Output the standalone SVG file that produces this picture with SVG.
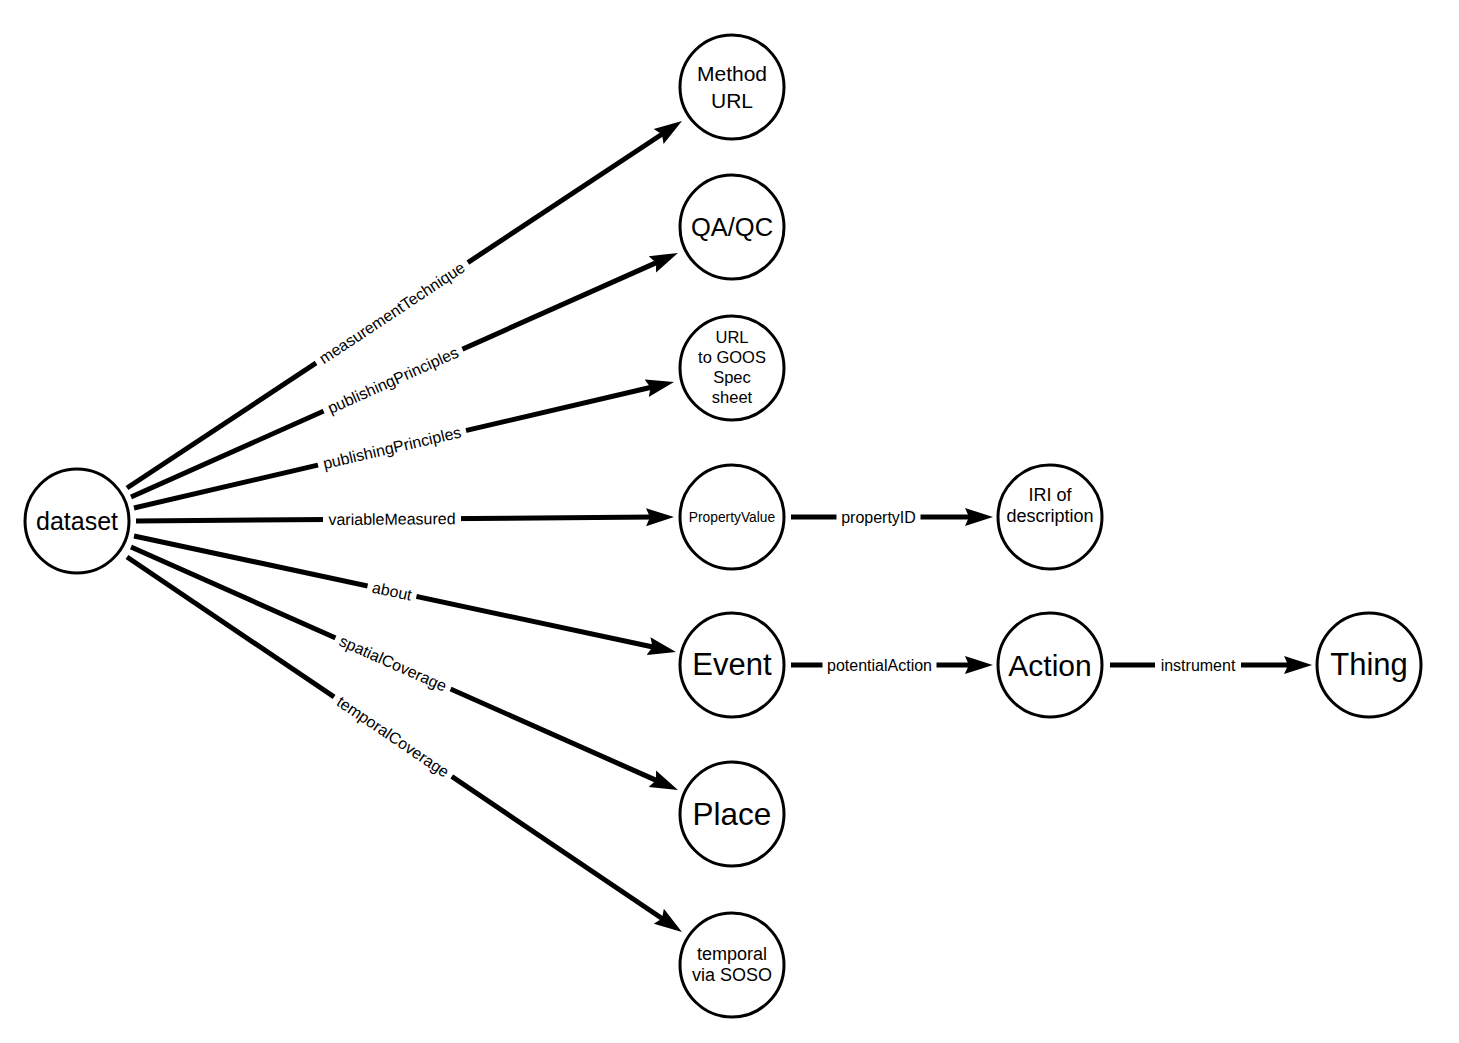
<svg xmlns="http://www.w3.org/2000/svg" width="1459" height="1043" viewBox="0 0 1459 1043">
<style>
  .node circle { fill: #ffffff; stroke: #000000; stroke-width: 3; }
  .node text { font-family: "Liberation Sans", Arial, sans-serif; fill: #000000; text-anchor: middle; dominant-baseline: central; }
  .edge line { stroke: #000000; stroke-width: 5; marker-end: url(#arrow); }
  .lbl rect { fill: #ffffff; stroke: none; }
  .lbl text { font-family: "Liberation Sans", Arial, sans-serif; font-size: 16px; fill: #000000; text-anchor: middle; dominant-baseline: central; }
</style>
<defs>
  <marker id="arrow" markerUnits="userSpaceOnUse" markerWidth="30" markerHeight="20" viewBox="0 -10 30 20" refX="8" refY="0" orient="auto">
    <path d="M0,-9 L28,0 L0,9 L4,0 Z" fill="#000000"/>
  </marker>
</defs>
<rect width="1459" height="1043" fill="#ffffff"/>
<g id="connectors">
  <g class="edge" id="e-measurementTechnique">
    <line x1="127" y1="488" x2="665.3" y2="132.0"/>
    <g class="lbl" transform="translate(392,312.8) rotate(-33.47)"><rect x="-91" y="-8" width="182" height="16"/><text x="0" y="0">measurementTechnique</text></g>
  </g>
  <g class="edge" id="e-publishingPrinciples1">
    <line x1="131" y1="497" x2="659.7" y2="261.1"/>
    <g class="lbl" transform="translate(393,380.2) rotate(-24.04)"><rect x="-76" y="-8" width="152" height="16"/><text x="0" y="0">publishingPrinciples</text></g>
  </g>
  <g class="edge" id="e-publishingPrinciples2">
    <line x1="134" y1="508" x2="654.5" y2="386.5"/>
    <g class="lbl" transform="translate(392,447.8) rotate(-13.13)"><rect x="-76" y="-8" width="152" height="16"/><text x="0" y="0">publishingPrinciples</text></g>
  </g>
  <g class="edge" id="e-variableMeasured">
    <line x1="136" y1="521" x2="654" y2="517.1"/>
    <g class="lbl" transform="translate(392,519.1) rotate(-0.43)"><rect x="-69" y="-8" width="138" height="16"/><text x="0" y="0">variableMeasured</text></g>
  </g>
  <g class="edge" id="e-about">
    <line x1="134" y1="536" x2="656.4" y2="647.8"/>
    <g class="lbl" transform="translate(392,591.2) rotate(12.08)"><rect x="-25" y="-8" width="50" height="16"/><text x="0" y="0">about</text></g>
  </g>
  <g class="edge" id="e-spatialCoverage">
    <line x1="131" y1="547" x2="659.7" y2="781.9"/>
    <g class="lbl" transform="translate(393,663.4) rotate(23.95)"><rect x="-63" y="-8" width="126" height="16"/><text x="0" y="0">spatialCoverage</text></g>
  </g>
  <g class="edge" id="e-temporalCoverage">
    <line x1="127" y1="557" x2="665.4" y2="920.8"/>
    <g class="lbl" transform="translate(393,736.7) rotate(34.05)"><rect x="-71" y="-8" width="142" height="16"/><text x="0" y="0">temporalCoverage</text></g>
  </g>
  <g class="edge" id="e-propertyID">
    <line x1="791" y1="517" x2="973" y2="517"/>
    <g class="lbl" transform="translate(878.5,517)"><rect x="-42" y="-8" width="84" height="16"/><text x="0" y="0">propertyID</text></g>
  </g>
  <g class="edge" id="e-potentialAction">
    <line x1="791" y1="665" x2="973" y2="665"/>
    <g class="lbl" transform="translate(879.5,665)"><rect x="-57" y="-8" width="114" height="16"/><text x="0" y="0">potentialAction</text></g>
  </g>
  <g class="edge" id="e-instrument">
    <line x1="1110" y1="665" x2="1292" y2="665"/>
    <g class="lbl" transform="translate(1198,665)"><rect x="-43" y="-8" width="86" height="16"/><text x="0" y="0">instrument</text></g>
  </g>
</g>
<g class="node" id="n-dataset"><circle cx="77" cy="521" r="52"/><text x="77" y="521" font-size="25">dataset</text></g>
<g class="node" id="n-method"><circle cx="732" cy="87" r="52"/><text x="732" y="73" font-size="21">Method</text><text x="732" y="100" font-size="21">URL</text></g>
<g class="node" id="n-qaqc"><circle cx="732" cy="227" r="52"/><text x="732" y="227" font-size="25.5">QA/QC</text></g>
<g class="node" id="n-goos"><circle cx="732" cy="368" r="52"/><text x="732" y="337" font-size="16.5">URL</text><text x="732" y="357" font-size="16.5">to GOOS</text><text x="732" y="377" font-size="16.5">Spec</text><text x="732" y="397" font-size="16.5">sheet</text></g>
<g class="node" id="n-propertyvalue"><circle cx="732" cy="517" r="52"/><text x="732" y="517" font-size="13.8">PropertyValue</text></g>
<g class="node" id="n-iri"><circle cx="1050" cy="517" r="52"/><text x="1050" y="495" font-size="18">IRI of</text><text x="1050" y="516" font-size="18">description</text></g>
<g class="node" id="n-event"><circle cx="732" cy="665" r="52"/><text x="732" y="664" font-size="31">Event</text></g>
<g class="node" id="n-action"><circle cx="1050" cy="665" r="52"/><text x="1050" y="665" font-size="30">Action</text></g>
<g class="node" id="n-thing"><circle cx="1369" cy="665" r="52"/><text x="1369" y="664" font-size="31">Thing</text></g>
<g class="node" id="n-place"><circle cx="732" cy="814" r="52"/><text x="732" y="814" font-size="31.5">Place</text></g>
<g class="node" id="n-temporal"><circle cx="732" cy="965" r="52"/><text x="732" y="954" font-size="18">temporal</text><text x="732" y="975" font-size="18">via SOSO</text></g>
</svg>
